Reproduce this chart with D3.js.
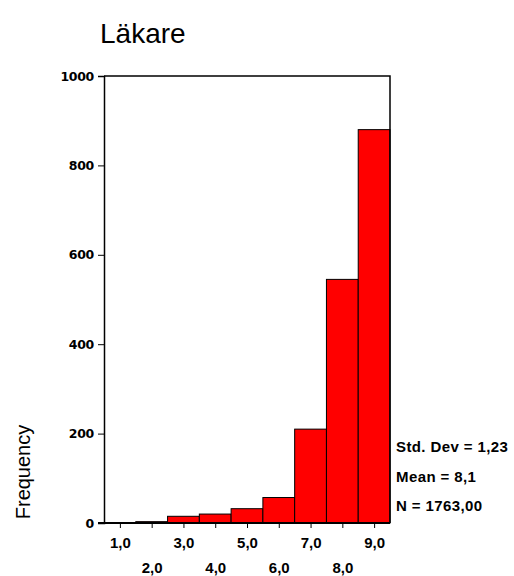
<!DOCTYPE html>
<html>
<head>
<meta charset="utf-8">
<script src="https://cdn.jsdelivr.net/npm/d3@7"></script>
<style>
  body { margin: 0; background: #fff; }
  svg { display: block; font-family: "Liberation Sans", Arial, sans-serif; }
</style>
</head>
<body>
<div id="chart"></div>
<script>
// Histogram data
const bins = [1, 2, 3, 4, 5, 6, 7, 8, 9];
const counts = [1, 3, 15, 20, 32, 57, 210, 545, 880];
const yTicks = [0, 200, 400, 600, 800, 1000];
const statLines = ['Std. Dev = 1,23', 'Mean = 8,1', 'N = 1763,00'];
const title = 'Läkare';

const width = 514, height = 576;
const m = { left: 104, right: 390, top: 76, bottom: 523 };

const svg = d3.select('#chart').append('svg')
  .attr('width', width)
  .attr('height', height);

const x = d3.scaleLinear().domain([0.5, 9.5]).range([m.left, m.right]);
const y = d3.scaleLinear().domain([0, 1000]).range([m.bottom, m.top]);

// bars
svg.selectAll('rect.bar')
  .data(bins)
  .enter()
  .append('rect')
  .attr('class', 'bar')
  .attr('x', d => x(d - 0.5))
  .attr('width', d => x(d + 0.5) - x(d - 0.5))
  .attr('y', (d, i) => y(counts[i]))
  .attr('height', (d, i) => y(0) - y(counts[i]))
  .attr('fill', '#ff0000')
  .attr('stroke', '#000')
  .attr('stroke-width', 1);

// frame top + right
svg.append('path')
  .attr('d', `M${m.left},${m.top}H${m.right}V${m.bottom}`)
  .attr('fill', 'none')
  .attr('stroke', '#000')
  .attr('stroke-width', 1.5);

// y axis
const yAxis = svg.append('g')
  .attr('transform', `translate(${m.left},0)`)
  .call(d3.axisLeft(y).tickValues(yTicks).tickSize(6).tickPadding(4).tickFormat(d3.format('d')));
yAxis.select('.domain').attr('stroke-width', 1.5);
yAxis.selectAll('text')
  .attr('font-family', '"DejaVu Sans", sans-serif')
  .attr('font-size', 12.5)
  .attr('font-weight', 'bold')
  .attr('letter-spacing', -0.3)
  .attr('fill', '#000');

// x axis
const xAxis = svg.append('g')
  .attr('transform', `translate(0,${m.bottom})`)
  .call(d3.axisBottom(x).tickValues(bins).tickSize(5).tickSizeOuter(0).tickFormat(d => d.toFixed(1).replace('.', ',')));
xAxis.select('.domain')
  .attr('d', `M${m.left - 6},0H${m.right}`)
  .attr('stroke-width', 2);
xAxis.selectAll('text')
  .attr('font-size', 15)
  .attr('font-weight', 'bold')
  .attr('fill', '#000')
  .attr('dy', 0)
  .attr('y', (d, i) => i % 2 === 0 ? 25 : 50);

// axis title
svg.append('text')
  .attr('transform', 'translate(30,472) rotate(-90)')
  .attr('text-anchor', 'middle')
  .attr('font-size', 20)
  .text('Frequency');

// chart title
svg.append('text')
  .attr('x', 100)
  .attr('y', 43)
  .attr('font-size', 28)
  .text(title);

// stats
svg.selectAll('text.stat')
  .data(statLines)
  .enter()
  .append('text')
  .attr('class', 'stat')
  .attr('x', 396)
  .attr('y', (d, i) => 452 + i * 29.5)
  .attr('font-size', 15)
  .attr('font-weight', 'bold')
  .attr('letter-spacing', 0.4)
  .text(d => d);
</script>
</body>
</html>
